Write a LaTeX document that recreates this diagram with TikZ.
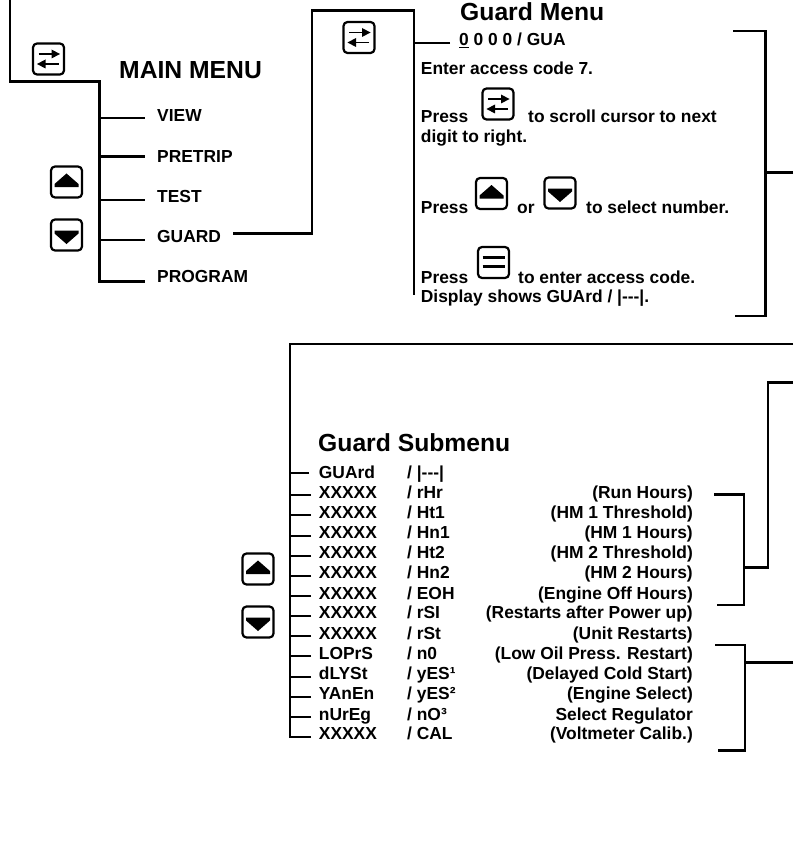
\documentclass[tikz,border=0pt]{standalone}
\usepackage{fontspec}
\setmainfont{Liberation Sans}
\usepackage{xcolor}
\usetikzlibrary{arrows.meta}
\tikzset{
rule/.style={line width=2.3pt,black,line cap=butt,line join=miter},
txt/.style={anchor=base west,inner sep=0pt,font=\fontsize{17.4}{20}\selectfont\bfseries},
note/.style={anchor=base east,inner sep=0pt,font=\fontsize{17.4}{20}\selectfont\bfseries},
head/.style={anchor=base west,inner sep=0pt,font=\fontsize{24.7}{28}\selectfont\bfseries},
keybox/.style={line width=2.2pt,rounded corners=4pt},
pics/scrollkey/.style={code={
\draw[keybox](-15.5,-15.5)rectangle(15.5,15.5);
\draw[line width=1.3pt](-10,-5)--(5,-5);
\fill(3,-9.5)--(11.5,-5)--(3,-0.5)--cycle;
\draw[line width=1.3pt](10,5)--(-5,5);
\fill(-3,0.5)--(-11.5,5)--(-3,9.5)--cycle;
}},
pics/upkey/.style={code={
\draw[keybox](-15.5,-15.5)rectangle(15.5,15.5);
\fill(0,-8.5)--(12,2)--(12,5)--(-12,5)--(-12,2)--cycle;
}},
pics/downkey/.style={code={
\draw[keybox](-15.5,-15.5)rectangle(15.5,15.5);
\fill(0,9)--(12,-1.5)--(12,-4.5)--(-12,-4.5)--(-12,-1.5)--cycle;
}},
pics/enterkey/.style={code={
\draw[keybox](-15.5,-15.5)rectangle(15.5,15.5);
\draw[line width=2.2pt](-11,-5)--(11,-5)(-11,4)--(11,4);
}}
}
\begin{document}
\begin{tikzpicture}[x=1pt,y=-1pt]
\useasboundingbox(0,0)rectangle(793,853);
% main menu
\coordinate(mainTop)at(10,0);
\coordinate(mainLeft)at(10,81.5);
\coordinate(mainElbow)at(99.5,81.5);
\coordinate(mainEnd)at(99.5,282.5);
\draw[rule](mainTop)--(mainLeft)--(mainElbow)--(mainEnd);
\node[head](mainTitle)at(119,78.7){MAIN MENU};
\pic at(48.5,59){scrollkey};
\pic at(66.5,182){upkey};
\pic at(66.5,235){downkey};
\node[txt](view)at(157,122){VIEW};
\node[txt](pretrip)at(157,162.5){PRETRIP};
\node[txt](test)at(157,202){TEST};
\node[txt](guard)at(157,242){GUARD};
\node[txt](program)at(157,282){PROGRAM};
\coordinate(tickView)at(144.5,118);
\coordinate(tickPretrip)at(144.5,156.5);
\coordinate(tickTest)at(144.5,200);
\coordinate(tickGuard)at(144.5,240);
\coordinate(tickProgram)at(144.5,281.5);
\draw[rule](tickView)--(tickView-|mainEnd)
(tickPretrip)--(tickPretrip-|mainEnd)
(tickTest)--(tickTest-|mainEnd)
(tickGuard)--(tickGuard-|mainEnd)
(tickProgram)--(tickProgram-|mainEnd);
% guard menu
\coordinate(guardOut)at(233,233.5);
\coordinate(guardElbow)at(312,233.5);
\coordinate(guardTopA)at(312,10.5);
\coordinate(guardTopB)at(414,10.5);
\coordinate(guardEnd)at(414,295);
\coordinate(guardTick)at(450,42.7);
\draw[rule](guardOut)--(guardElbow)--(guardTopA)--(guardTopB)--(guardEnd);
\draw[rule](guardTick)--(guardTick-|guardEnd);
\pic at(359,37.5){scrollkey};
\node[head](guardTitle)at(460,20.7){Guard Menu};
\node[txt](code)at(459,46){\underline{0} 0 0 0 / GUA};
\node[txt](enter)at(420.7,75){Enter access code 7.};
\node[txt](pressA)at(420.7,123){Press};
\pic at(498,104){scrollkey};
\node[txt](scroll)at(528,123){to scroll cursor to next};
\node[txt](digit)at(420.7,143){digit to right.};
\node[txt](pressB)at(420.7,213){Press};
\pic at(491.5,193.5){upkey};
\node[txt](orword)at(517,213){or};
\pic at(560,193){downkey};
\node[txt](select)at(586,213){to select number.};
\node[txt](pressC)at(420.7,283){Press};
\pic at(493.5,262.5){enterkey};
\node[txt](accept)at(518,283){to enter access code.};
\node[txt](display)at(420.7,302){Display shows GUArd / |{-}{-}{-}|.};
% bracket of the guard menu
\coordinate(brkA)at(733,31);
\coordinate(brkB)at(765.5,31);
\coordinate(brkC)at(765.5,316);
\coordinate(brkD)at(735,316);
\coordinate(brkOut)at(793,172.5);
\draw[rule](brkA)--(brkB)--(brkC)--(brkD);
\draw[rule](brkOut)--(brkOut-|brkB);
% guard submenu
\coordinate(subRight)at(793,344);
\coordinate(subTop)at(290,344);
\coordinate(subEnd)at(290,738);
\draw[rule](subRight)--(subTop)--(subEnd);
\node[head](subTitle)at(318,451){Guard Submenu};
\pic at(258,569){upkey};
\pic at(258,622){downkey};
\node[txt](nameA)at(318.7,478){GUArd};\node[txt](valA)at(407,478){/ |{-}{-}{-}|};
\node[txt](nameB)at(318.7,498){XXXXX};\node[txt](valB)at(407,498){/ rHr};\node[note](noteB)at(693,498){(Run Hours)};
\node[txt](nameC)at(318.7,518){XXXXX};\node[txt](valC)at(407,518){/ Ht1};\node[note](noteC)at(693,518){(HM 1 Threshold)};
\node[txt](nameD)at(318.7,538){XXXXX};\node[txt](valD)at(407,538){/ Hn1};\node[note](noteD)at(693,538){(HM 1 Hours)};
\node[txt](nameE)at(318.7,558){XXXXX};\node[txt](valE)at(407,558){/ Ht2};\node[note](noteE)at(693,558){(HM 2 Threshold)};
\node[txt](nameF)at(318.7,578){XXXXX};\node[txt](valF)at(407,578){/ Hn2};\node[note](noteF)at(693,578){(HM 2 Hours)};
\node[txt](nameG)at(318.7,599){XXXXX};\node[txt](valG)at(407,599){/ EOH};\node[note](noteG)at(693,599){(Engine Off Hours)};
\node[txt](nameH)at(318.7,618){XXXXX};\node[txt](valH)at(407,618){/ rSI};\node[note](noteH)at(693,618){(Restarts after Power up)};
\node[txt](nameI)at(318.7,639){XXXXX};\node[txt](valI)at(407,639){/ rSt};\node[note](noteI)at(693,639){(Unit Restarts)};
\node[txt](nameJ)at(318.7,659){LOPrS};\node[txt](valJ)at(407,659){/ n0};\node[note](noteJ)at(693,659){(Low Oil Press. Restart)};
\node[txt](nameK)at(318.7,679){dLYSt};\node[txt](valK)at(407,679){/ yES¹};\node[note](noteK)at(693,679){(Delayed Cold Start)};
\node[txt](nameL)at(318.7,699){YAnEn};\node[txt](valL)at(407,699){/ yES²};\node[note](noteL)at(693,699){(Engine Select)};
\node[txt](nameM)at(318.7,720){nUrEg};\node[txt](valM)at(407,720){/ nO³};\node[note](noteM)at(693,720){Select Regulator};
\node[txt](nameN)at(318.7,739){XXXXX};\node[txt](valN)at(407,739){/ CAL};\node[note](noteN)at(693,739){(Voltmeter Calib.)};
\coordinate(tickA)at(309,473);
\coordinate(tickB)at(311,495);
\coordinate(tickC)at(311,515);
\coordinate(tickD)at(311,536);
\coordinate(tickE)at(311,556);
\coordinate(tickF)at(311,576);
\coordinate(tickG)at(311,596);
\coordinate(tickH)at(311,616);
\coordinate(tickI)at(311,636);
\coordinate(tickJ)at(311,656);
\coordinate(tickK)at(311,677);
\coordinate(tickL)at(311,697);
\coordinate(tickM)at(311,717);
\coordinate(tickN)at(311,737);
\draw[rule](tickA)--(tickA-|subEnd)(tickB)--(tickB-|subEnd)(tickC)--(tickC-|subEnd)
(tickD)--(tickD-|subEnd)(tickE)--(tickE-|subEnd)(tickF)--(tickF-|subEnd)
(tickG)--(tickG-|subEnd)(tickH)--(tickH-|subEnd)(tickI)--(tickI-|subEnd)
(tickJ)--(tickJ-|subEnd)(tickK)--(tickK-|subEnd)(tickL)--(tickL-|subEnd)
(tickM)--(tickM-|subEnd)(tickN)--(tickN-|subEnd);
% brackets of the submenu
\coordinate(hoursA)at(714,494.5);
\coordinate(hoursB)at(744,494.5);
\coordinate(hoursC)at(744,605);
\coordinate(hoursD)at(717,605);
\coordinate(hoursOut)at(768,567.5);
\coordinate(hoursTop)at(768,382.5);
\coordinate(hoursRight)at(793,382.5);
\draw[rule](hoursA)--(hoursB)--(hoursC)--(hoursD);
\draw[rule](hoursOut-|hoursB)--(hoursOut)--(hoursTop)--(hoursRight);
\coordinate(restA)at(715,645);
\coordinate(restB)at(745,645);
\coordinate(restC)at(745,750.5);
\coordinate(restD)at(718,750.5);
\coordinate(restOut)at(793,662.5);
\draw[rule](restA)--(restB)--(restC)--(restD);
\draw[rule](restOut)--(restOut-|restB);
\end{tikzpicture}
\end{document}
